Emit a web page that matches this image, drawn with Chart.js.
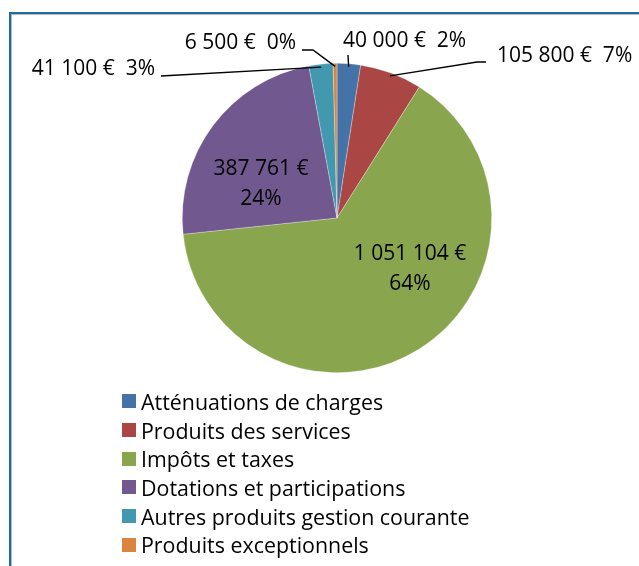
<!DOCTYPE html>
<html lang="fr">
<head>
<meta charset="utf-8">
<title>Recettes de fonctionnement</title>
<script src="https://cdn.jsdelivr.net/npm/chart.js@4.4.1/dist/chart.umd.min.js"></script>
<style>
  html, body { margin: 0; padding: 0; background: #fff; }
  body { width: 639px; height: 566px; position: relative; overflow: hidden; font-family: 'Open Sans', sans-serif; }
  #frame {
    position: absolute; left: 9px; top: 12px; width: 700px; height: 700px;
    border-top: 2px solid #1b6d9e; border-left: 2px solid #1b6d9e;
    box-shadow: inset 1px 1px 0 #b9b9b9;
  }
  #chartRecettes { position: absolute; left: 0; top: 0; }
  #legend { position: absolute; left: 122px; top: 387px; margin: 0; padding: 0; list-style: none; }
  #legend li { height: 28.7px; display: flex; align-items: center; font-size: 21.4px; color: #000; white-space: nowrap; }
  #legend span.box { width: 14px; height: 14px; margin-right: 5px; flex: none; }
</style>
</head>
<body>
<div id="frame"></div>
<canvas id="chartRecettes" width="639" height="566"></canvas>
<ul id="legend"></ul>
<script>
const CATEGORIES = [
  'Atténuations de charges',
  'Produits des services',
  'Impôts et taxes',
  'Dotations et participations',
  'Autres produits gestion courante',
  'Produits exceptionnels',
];
const MONTANTS = [40000, 105800, 1051104, 387761, 41100, 6500];
const POURCENTAGES = ['2%', '7%', '64%', '24%', '3%', '0%'];
const COULEURS = ['#4572a7', '#aa4643', '#89a54e', '#71588f', '#4198af', '#db843d'];

const euro = (v) => v.toLocaleString('fr-FR').replace(/\s/g, ' ') + ' €';

// placement des étiquettes, relatif au centre du camembert
// inside: texte sur deux lignes dans la part ; sinon texte + ligne de rappel
const LABEL_LAYOUT = [
  { dx: 6, dy: -177, align: 'left', leader: [[11, -163]] },
  { dx: 160, dy: -162, align: 'left', leader: [[149, -156], [140, -156]] },
  { inside: true, dx: 73, dy: 51 },
  { inside: true, dx: -76, dy: -34 },
  { dx: -182, dy: -149, align: 'right', leader: [[-176, -142]] },
  { dx: -41, dy: -175, align: 'right', leader: [[-35, -168], [-24, -168]] },
];

const labelsPlugin = {
  id: 'etiquettes',
  afterDatasetsDraw(chart) {
    const { ctx } = chart;
    const arcs = chart.getDatasetMeta(0).data;
    ctx.save();
    ctx.font = '21px "Open Sans"';
    ctx.fillStyle = '#000';
    ctx.strokeStyle = '#000';
    ctx.lineWidth = 1.4;
    ctx.textBaseline = 'middle';
    arcs.forEach((arc, i) => {
      const { x, y, startAngle, endAngle, outerRadius } = arc.getProps(['x', 'y', 'startAngle', 'endAngle', 'outerRadius'], true);
      const lay = LABEL_LAYOUT[i];
      const txt = euro(MONTANTS[i]);
      if (lay.inside) {
        ctx.textAlign = 'center';
        ctx.fillText(txt, x + lay.dx, y + lay.dy - 15);
        ctx.fillText(POURCENTAGES[i], x + lay.dx, y + lay.dy + 15);
        return;
      }
      ctx.textAlign = lay.align;
      ctx.fillText(txt + '  ' + POURCENTAGES[i], x + lay.dx, y + lay.dy);
      const mid = (startAngle + endAngle) / 2;
      const r = outerRadius - 3;
      ctx.beginPath();
      lay.leader.forEach(([px, py], k) => {
        if (k === 0) ctx.moveTo(x + px, y + py);
        else ctx.lineTo(x + px, y + py);
      });
      ctx.lineTo(x + Math.cos(mid) * r, y + Math.sin(mid) * r);
      ctx.stroke();
    });
    ctx.restore();
  },
};

const legend = document.getElementById('legend');
CATEGORIES.forEach((name, i) => {
  const li = document.createElement('li');
  const box = document.createElement('span');
  box.className = 'box';
  box.style.background = COULEURS[i];
  li.appendChild(box);
  li.appendChild(document.createTextNode(name));
  legend.appendChild(li);
});

new Chart(document.getElementById('chartRecettes').getContext('2d'), {
  type: 'pie',
  data: {
    labels: CATEGORIES,
    datasets: [{
      data: MONTANTS,
      backgroundColor: COULEURS,
      borderColor: 'rgba(255,255,255,0.5)',
      borderWidth: 0.6,
    }],
  },
  options: {
    responsive: false,
    animation: false,
    layout: { padding: { left: 182, right: 147, top: 63, bottom: 193 } },
    plugins: {
      legend: { display: false },
      tooltip: { enabled: false },
    },
  },
  plugins: [labelsPlugin],
});
</script>
</body>
</html>
